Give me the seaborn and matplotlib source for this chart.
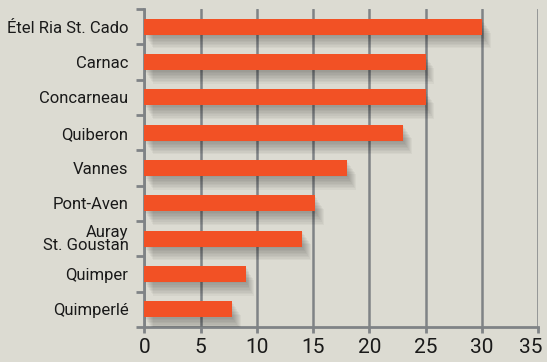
import matplotlib
matplotlib.use("Agg")
import matplotlib.pyplot as plt
import matplotlib.patheffects as pe
import matplotlib.transforms as mtransforms
from matplotlib.ticker import FixedLocator
import seaborn as sns
import pandas as pd

# Data
categories = ["Étel Ria St. Cado", "Carnac", "Concarneau", "Quiberon", "Vannes",
              "Pont-Aven", "Auray\nSt. Goustan", "Quimper", "Quimperlé"]
values = [30, 25, 25, 23, 18, 15.2, 14, 9, 7.8]
x_ticks = [0, 5, 10, 15, 20, 25, 30, 35]

BG = "#dcdbd2"
BAR = "#f25125"
GRID = "#7f8386"

sns.set_theme(style="white")
plt.rcParams["font.family"] = ["Roboto", "DejaVu Sans"]

df = pd.DataFrame({"site": categories, "value": values})

fig = plt.figure(figsize=(5.47, 3.62), dpi=100, facecolor=BG)
ax = fig.add_axes([0.264, 0.0967, 0.7195, 0.8783])
ax.set_facecolor(BG)

sns.barplot(data=df, x="value", y="site", orient="h", color=BAR,
            width=0.45, saturation=1, ax=ax, zorder=3)

# soft drop shadow under each bar
shadow = [pe.SimplePatchShadow(offset=(k * 0.7, -k * 1.1), shadow_rgbFace="black",
                               alpha=0.035) for k in range(1, 10)]
for p in ax.patches:
    p.set_edgecolor("none")
    p.set_path_effects(shadow + [pe.Normal()])

ax.set_xlim(0, 35)
ax.set_ylim(len(categories) - 0.5, -0.5)
ax.set_xticks(x_ticks)
ax.set_xlabel("")
ax.set_ylabel("")

# vertical grid behind the bars
ax.xaxis.grid(True, color=GRID, linewidth=1.8)
ax.set_axisbelow(True)

for side in ("top", "right"):
    ax.spines[side].set_visible(False)
for side in ("left", "bottom"):
    ax.spines[side].set_color(GRID)
    ax.spines[side].set_linewidth(2)

# category boundary ticks on the left axis
ax.yaxis.set_minor_locator(FixedLocator([i - 0.5 for i in range(len(categories) + 1)]))
ax.tick_params(axis="y", which="minor", length=5.5, width=2, color=GRID, left=True)
ax.tick_params(axis="y", which="major", length=0, pad=11.5, labelsize=12,
               labelcolor="#1a1a1a")
ax.tick_params(axis="x", which="major", length=4.5, width=2, color=GRID, bottom=True,
               pad=3.5, labelsize=15, labelcolor="#1a1a1a")
for lbl in ax.get_yticklabels():
    lbl.set_linespacing(0.85)

# keep the last x label inside the figure
last = ax.get_xticklabels()[-1]
last.set_transform(last.get_transform()
                   + mtransforms.ScaledTranslation(-5 / 72, 0, fig.dpi_scale_trans))

fig.savefig("out.png", dpi=100, facecolor=BG)
